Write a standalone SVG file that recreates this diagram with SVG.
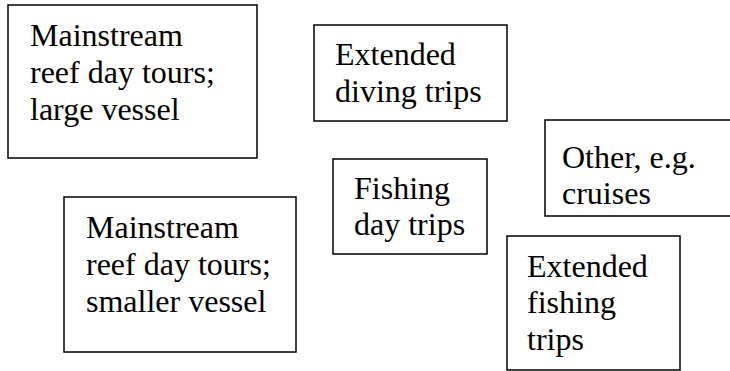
<svg xmlns="http://www.w3.org/2000/svg" width="730" height="371" viewBox="0 0 730 371">
<style>
.box{fill:#fff;stroke:#000;stroke-width:1.5}
.t{font-family:"Liberation Serif","Times New Roman",serif;font-size:32px;fill:#000}
</style>
<rect width="730" height="371" fill="#fff"/>
<g id="connectors"></g>
<g id="n1">
<rect class="box" x="8" y="5" width="249" height="153"/>
<text class="t" x="30" y="46">Mainstream</text>
<text class="t" x="30" y="83">reef day tours;</text>
<text class="t" x="30" y="120">large vessel</text>
</g>
<g id="n2">
<rect class="box" x="314" y="25" width="193" height="96"/>
<text class="t" x="335" y="65">Extended</text>
<text class="t" x="335" y="102">diving trips</text>
</g>
<g id="n3">
<rect class="box" x="333" y="159" width="154" height="95"/>
<text class="t" x="354" y="199">Fishing</text>
<text class="t" x="354" y="235">day trips</text>
</g>
<g id="n4">
<rect class="box" x="545" y="120" width="200" height="96"/>
<text class="t" x="562" y="168">Other, e.g.</text>
<text class="t" x="562" y="204">cruises</text>
</g>
<g id="n5">
<rect class="box" x="64" y="197" width="232" height="155"/>
<text class="t" x="86" y="238">Mainstream</text>
<text class="t" x="86" y="275">reef day tours;</text>
<text class="t" x="86" y="312">smaller vessel</text>
</g>
<g id="n6">
<rect class="box" x="507" y="236" width="173" height="134"/>
<text class="t" x="527" y="277">Extended</text>
<text class="t" x="527" y="313">fishing</text>
<text class="t" x="527" y="350">trips</text>
</g>
</svg>
